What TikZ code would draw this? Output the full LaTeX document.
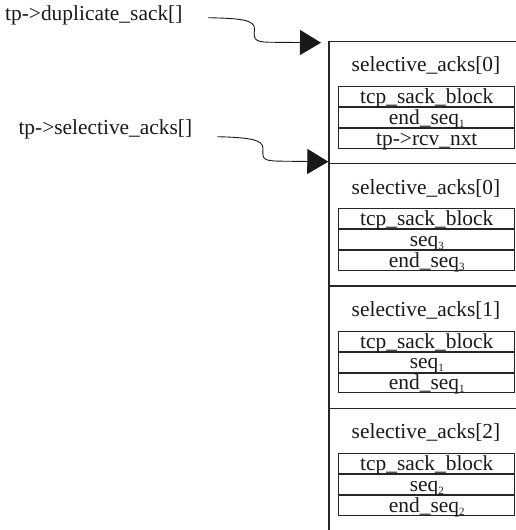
\documentclass[tikz,border=0pt]{standalone}
\usepackage{fontspec}
\setmainfont{Liberation Serif}
\usetikzlibrary{arrows.meta}
\newcommand\sbs[1]{\raisebox{-3pt}{\fontsize{11pt}{11pt}\selectfont #1}}
\begin{document}
\begin{tikzpicture}[x=1pt,y=-1pt,
  lbl/.style={inner sep=0pt, text=black!90, font=\fontsize{21.4pt}{24pt}\selectfont},
  frame/.style={line width=1.2pt, draw=black!85},
  cell/.style={draw=black!85, line width=1pt, minimum width=176pt, minimum height=19.9pt, inner sep=0pt, anchor=north west},
  ptr/.style={line width=0.9pt, draw=black!90, -{Triangle[length=21pt,width=25pt]}}]
\useasboundingbox (0,0) rectangle (516,530);

% left labels
\node[lbl, anchor=base west] (dup) at (5,20.7) {tp->duplicate\_sack[]};
\node[lbl, anchor=base west] (sel) at (18.3,134.3) {tp->selective\_acks[]};

% frame
\draw[frame] (329,41.3) -- (329,530);
\foreach \i/\ttl/\a/\b/\c in {
  0/selective\_acks[0]/tcp\_sack\_block/end\_seq\sbs{1}/tp->rcv\_nxt,
  1/selective\_acks[0]/tcp\_sack\_block/seq\sbs{3}/end\_seq\sbs{3},
  2/selective\_acks[1]/tcp\_sack\_block/seq\sbs{1}/end\_seq\sbs{1},
  3/selective\_acks[2]/tcp\_sack\_block/seq\sbs{2}/end\_seq\sbs{2}}{
  \pgfmathsetmacro\T{41.3+122.3*\i}
  \coordinate (s\i) at (329,\T);
  \draw[frame] (s\i) -- (516,\T);
  \node[lbl, anchor=base] (h\i) at (426,\T+30.4) {\ttl};
  \node[cell] (c\i1) at (338.3,\T+44.8) {};
  \node[cell] (c\i2) at (c\i1.south west) {};
  \node[cell] (c\i3) at (c\i2.south west) {};
  \node[lbl, anchor=base] (t\i1) at ([yshift=3.6pt]c\i1.south) {\a};
  \node[lbl, anchor=base] (t\i2) at ([yshift=3.6pt]c\i2.south) {\b};
  \node[lbl, anchor=base] (t\i3) at ([yshift=3.6pt]c\i3.south) {\c};
}

% pointers
\coordinate (dupS) at (208,17.7);
\coordinate (selS) at (217.3,136.7);
\draw[ptr] (dupS) .. controls (238,18.5) and (256,19) .. (254.5,30)
  .. controls (253,41) and (256,42.3) .. (275,42.3) -- ([xshift=-8pt,yshift=-1.4pt]s0);
\draw[ptr] (selS) .. controls (247,137.5) and (264,139) .. (263,149)
  .. controls (262,160) and (264,161) .. (283,161.2) -- ([xshift=-0.7pt,yshift=1.9pt]s1);
\end{tikzpicture}
\end{document}
